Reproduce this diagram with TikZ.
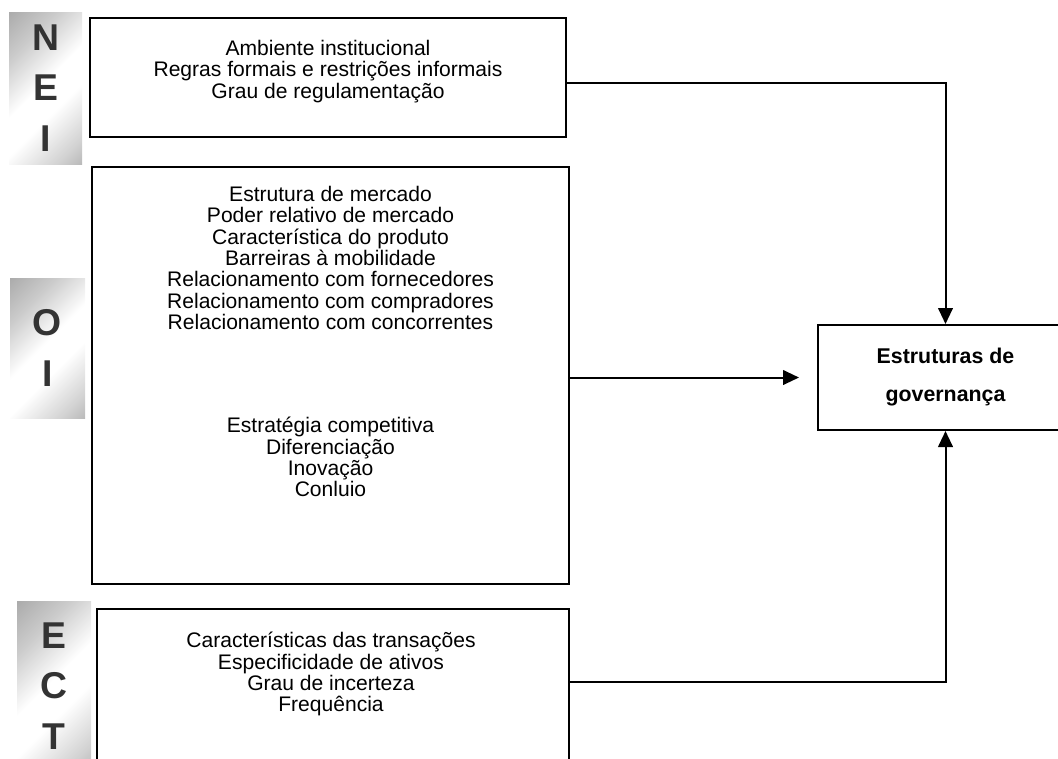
\documentclass[tikz,border=0pt]{standalone}
\usepackage{fontspec}
\setmainfont{Liberation Sans}
\usetikzlibrary{arrows.meta,shadows}
\pgfdeclarehorizontalshading{metal}{100bp}{color(0bp)=(black!45); color(30bp)=(black!20); color(48bp)=(white); color(60bp)=(white); color(78bp)=(black!18); color(100bp)=(black!45)}

\begin{document}
\begin{tikzpicture}[x=0.75pt, y=-0.75pt,
    box/.style={draw, line width=1.5pt, fill=white, inner sep=0pt,
      drop shadow={shadow xshift=1pt, shadow yshift=-1pt, fill=black!40, opacity=1}},
    txt/.style={align=center, inner sep=0pt, font=\fontsize{15.8}{16}\selectfont},
    tag/.style={shading=metal, shading angle=-45, inner sep=0pt, align=center,
      text=black!80, font=\fontsize{28}{38}\selectfont\bfseries},
    arr/.style={line width=1.5pt, -{Triangle[length=12pt,width=11pt]}}]
    \useasboundingbox (0,0) rectangle (1058,758);

    % side labels
    \node [tag, minimum width=54.75pt, minimum height=114pt] (tnei) at (45.5,88) {N\\E\\I};
    \node [tag, minimum width=56.25pt, minimum height=105pt] (toi) at (47.5,348) {O\\I};
    \node [tag, minimum width=55.5pt, minimum height=126.75pt] (tect) at (54,686) {E\\C\\T};

    % boxes
    \node [box, minimum width=357pt, minimum height=89.25pt] (nei) at (328,77.5) {};
    \node [box, minimum width=357.75pt, minimum height=312.75pt] (oi) at (330.5,375.5) {};
    \node [box, minimum width=354pt, minimum height=143.25pt] (ect) at (333,704.5) {};
    \node [box, minimum width=191.25pt, minimum height=78.75pt, align=center,
      font=\fontsize{16}{28.5}\selectfont\bfseries] (gov) at (945.5,377.5)
      {Estruturas de\\governança};

    \node [txt, anchor=north] (neitxt) at (328,40)
      {Ambiente institucional\\Regras formais e restrições informais\\Grau de regulamentação};
    \node [txt, anchor=north] (oitxt) at (330.5,186)
      {Estrutura de mercado\\Poder relativo de mercado\\Característica do produto\\
       Barreiras à mobilidade\\Relacionamento com fornecedores\\Relacionamento com compradores\\
       Relacionamento com concorrentes\\[61.5pt]
       Estratégia competitiva\\Diferenciação\\Inovação\\Conluio};
    \node [txt, anchor=north] (ecttxt) at (331,632)
      {Características das transações\\Especificidade de ativos\\Grau de incerteza\\Frequência};

    % connectors
    \draw [arr] ([yshift=-4pt]nei.east) -| (gov.north);
    \draw [arr, shorten >=13.5pt] (oi.east |- gov.west) -- (gov.west);
    \draw [arr] ([yshift=17pt]ect.east) -| (gov.south);
  \end{tikzpicture}
\end{document}
